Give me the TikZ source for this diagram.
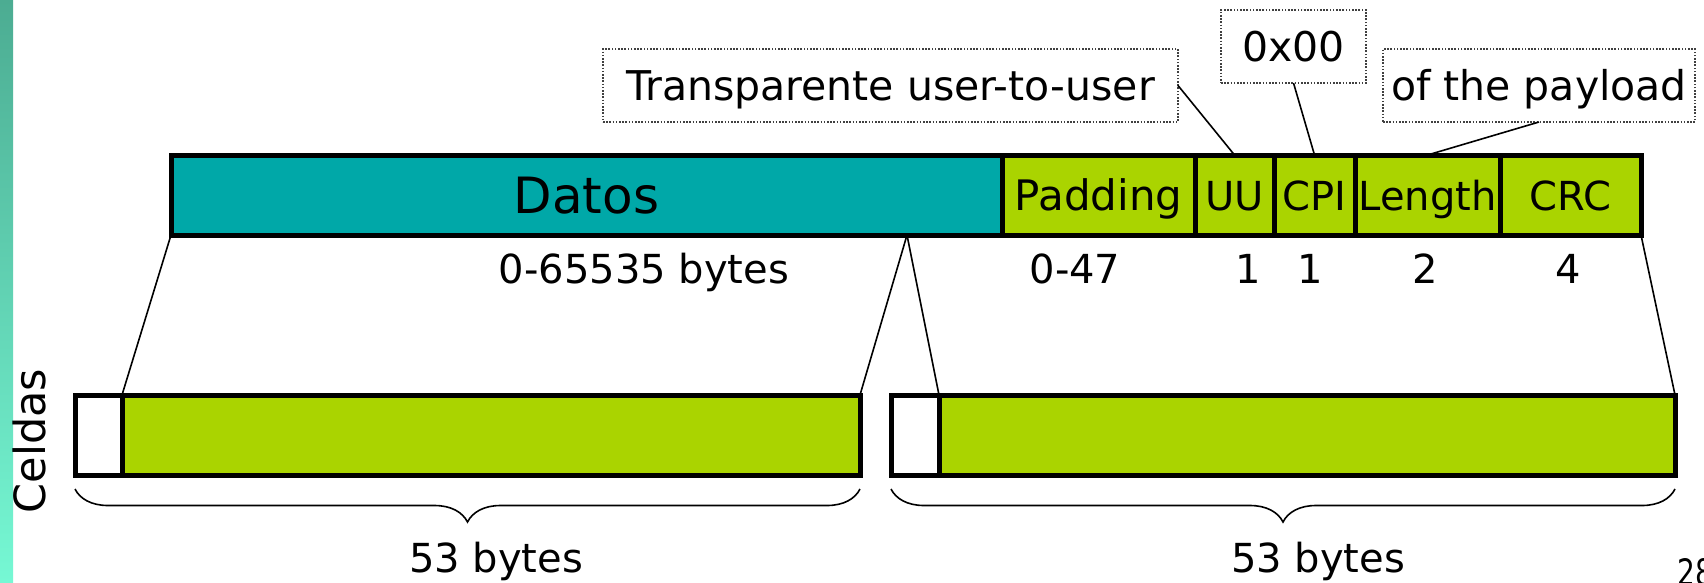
\documentclass[tikz,border=0pt]{standalone}
\usepackage{fontspec}
\setmainfont{DejaVu Sans}
\usetikzlibrary{decorations.pathreplacing}
\definecolor{tealbox}{RGB}{0,168,168}
\definecolor{limebox}{RGB}{170,212,0}
\definecolor{stripetop}{RGB}{76,172,146}
\definecolor{stripebot}{RGB}{118,248,212}
\begin{document}
\begin{tikzpicture}[x=1pt,y=-1pt,
  field/.style={draw=black,line width=5pt,outer sep=0pt,minimum height=80pt,inner sep=0pt,
    anchor=north west,text height=40pt,text depth=10pt,font=\fontsize{40}{48}\selectfont},
  note/.style={draw=black!75,line width=1.3pt,dash pattern=on 1.6pt off 1.6pt,outer sep=0pt,
    inner sep=0pt,minimum height=73pt,text height=40pt,text depth=11pt,font=\fontsize{41}{49}\selectfont},
  lbl/.style={inner sep=0pt,font=\fontsize{40}{48}\selectfont},
  conn/.style={line width=1.6pt,draw=black},
  cellbox/.style={draw=black,line width=5pt,outer sep=0pt,minimum height=80pt,inner sep=0pt,anchor=north west}]
\useasboundingbox (0,0) rectangle (1704,582);
\fill[white] (0,0) rectangle (1704,582);
\shade[top color=stripetop,bottom color=stripebot] (0,0) rectangle (13,582);

% upper frame
\node[field,fill=tealbox,minimum width=831pt,text height=46pt] (datos) at (171,155) {\fontsize{50}{60}\selectfont Datos};
\node[field,fill=limebox,minimum width=193pt] (pad) at (1002,155) {\fontsize{42}{50}\selectfont Padding};
\node[field,fill=limebox,minimum width=79pt] (uu) at (1195,155) {UU};
\node[field,fill=limebox,minimum width=81pt] (cpi) at (1274,155) {CPI};
\node[field,fill=limebox,minimum width=145pt] (len) at (1355,155) {Length};
\node[field,fill=limebox,minimum width=141pt] (crc) at (1500,155) {CRC};

% sizes
\node[lbl,anchor=base] (bdatos) at (644,283) {0-65535 bytes};
\node[lbl,anchor=base] (bpad) at (1075,283) {0-47};
\node[lbl,anchor=base] (buu) at (1248,283) {1};
\node[lbl,anchor=base] (bcpi) at (1310,283) {1};
\node[lbl,anchor=base] (blen) at (1425,283) {2};
\node[lbl,anchor=base] (bcrc) at (1568,283) {4};

% notes
\node[note,minimum width=575pt] (trans) at (890.5,85.5) {Transparente user-to-user};
\node[note,minimum width=145pt] (zero) at (1293.5,46.5) {0x00};
\node[note,minimum width=312pt] (payload) at (1539,85.5) {of the payload};
\draw[conn] (trans.east) -- (uu.north);
\draw[conn] (zero.south) -- (cpi.north);
\draw[conn] (payload.south) -- (len.north);

% cells
\node[cellbox,minimum width=47pt] (h1) at (75,395) {};
\node[cellbox,fill=limebox,minimum width=738pt] (c1) at (122,395) {};
\node[cellbox,minimum width=48pt] (h2) at (891,395) {};
\node[cellbox,fill=limebox,minimum width=736pt] (c2) at (939,395) {};

\coordinate (split) at (907,235);
\draw[conn] (datos.south west) -- (c1.north west);
\draw[conn] (split) -- (c1.north east);
\draw[conn] (split) -- (c2.north west);
\draw[conn] (crc.south east) -- (c2.north east);

% braces
\draw[conn,decorate,decoration={brace,mirror,amplitude=33pt}]
  ([yshift=-14pt]h1.south west) -- ([yshift=-14pt]c1.south east);
\draw[conn,decorate,decoration={brace,mirror,amplitude=33pt}]
  ([yshift=-14pt]h2.south west) -- ([yshift=-14pt]c2.south east);
\node[lbl,anchor=base] (s1) at (496,572) {53 bytes};
\node[lbl,anchor=base] (s2) at (1318,572) {53 bytes};

\node[lbl,rotate=90,font=\fontsize{43}{52}\selectfont] (celdas) at (29,441) {Celdas};
\node[lbl,anchor=base west,font=\fontsize{28}{34}\selectfont] (page) at (1677,585) {\scalebox{1}[1.3]{28}};
\end{tikzpicture}
\end{document}
